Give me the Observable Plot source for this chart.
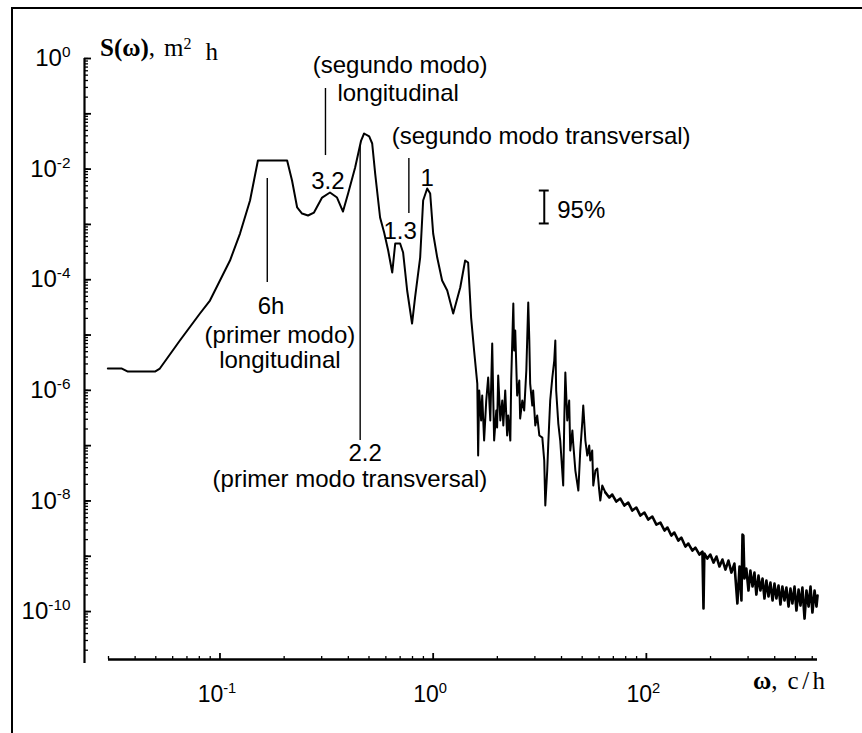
<!DOCTYPE html>
<html>
<head>
<meta charset="utf-8">
<script src="https://cdn.jsdelivr.net/npm/d3@7"></script>
<script src="https://cdn.jsdelivr.net/npm/@observablehq/plot@0.6"></script>
<style>
  html, body { margin: 0; padding: 0; background: #fff; }
  #page { position: relative; width: 862px; height: 733px; overflow: hidden; }
  #chart svg { display: block; }
  #frame {
    position: absolute; left: 11px; top: 7px; right: -10px; bottom: -10px;
    border-top: 2px solid #000; border-left: 2px solid #000; pointer-events: none;
  }
</style>
</head>
<body>
<div id="page"><div id="chart"></div><div id="frame"></div></div>
<script>
// Energy spectrum of sea level, S(ω) in m²·h against ω in cycles per hour.
// Each pair is [log10 ω, log10 S].
const lowFrequencyPart = [
  [-1.526, -5.606], [-1.460, -5.606], [-1.432, -5.660], [-1.305, -5.660], [-1.282, -5.606],
  [-1.188, -5.099], [-1.094, -4.611], [-1.047, -4.376], [-0.953, -3.653], [-0.906, -3.165],
  [-0.859, -2.568], [-0.822, -1.844], [-0.685, -1.844]
];
const seichePart = [
  [-0.662, -2.206], [-0.638, -2.694], [-0.615, -2.803], [-0.587, -2.839], [-0.559, -2.785],
  [-0.521, -2.514], [-0.484, -2.423], [-0.451, -2.514], [-0.423, -2.767], [-0.399, -2.441],
  [-0.366, -1.971], [-0.338, -1.483], [-0.324, -1.356], [-0.300, -1.410], [-0.286, -1.537],
  [-0.272, -2.080], [-0.249, -2.875], [-0.230, -3.146], [-0.211, -3.472], [-0.192, -3.870],
  [-0.178, -3.345], [-0.155, -3.345], [-0.141, -3.508], [-0.122, -4.195], [-0.099, -4.792],
  [-0.085, -4.322], [-0.061, -3.599], [-0.047, -2.568], [-0.028, -2.351], [-0.014, -2.441],
  [0.000, -3.165], [0.019, -3.599], [0.042, -4.014], [0.066, -4.195], [0.094, -4.611],
  [0.127, -4.141], [0.150, -3.653], [0.164, -3.689], [0.178, -4.684], [0.192, -5.280],
  [0.207, -5.877]
];
const highFrequencyPart = [
  [0.211, -7.179], [0.216, -6.004], [0.225, -6.546], [0.230, -6.094], [0.239, -6.908],
  [0.249, -6.184], [0.258, -5.768], [0.268, -6.546], [0.277, -5.154], [0.282, -6.184],
  [0.286, -6.908], [0.296, -6.365], [0.300, -6.673], [0.305, -5.732], [0.315, -6.546],
  [0.324, -6.184], [0.329, -6.637], [0.338, -6.004], [0.347, -6.817], [0.352, -6.456],
  [0.362, -6.908], [0.366, -5.823], [0.376, -4.430], [0.380, -5.280], [0.385, -4.919],
  [0.394, -6.094], [0.404, -5.823], [0.408, -6.510], [0.418, -6.184], [0.427, -6.365],
  [0.437, -5.642], [0.446, -4.412], [0.451, -5.099], [0.455, -5.877], [0.465, -6.275],
  [0.469, -6.004], [0.479, -6.637], [0.488, -6.456], [0.498, -6.817], [0.512, -6.854],
  [0.521, -7.269], [0.526, -8.083], [0.535, -7.450], [0.540, -6.962], [0.549, -6.184],
  [0.559, -5.768], [0.568, -5.461], [0.573, -5.099], [0.577, -6.004], [0.587, -6.600],
  [0.596, -6.908], [0.610, -7.721], [0.615, -6.546], [0.620, -5.678], [0.629, -6.546],
  [0.638, -6.184], [0.643, -7.089], [0.653, -6.727], [0.657, -6.962], [0.667, -7.450],
  [0.681, -7.812], [0.690, -7.089], [0.700, -6.546], [0.704, -6.275], [0.714, -6.908],
  [0.723, -7.179], [0.732, -6.998], [0.737, -7.269], [0.746, -7.089], [0.751, -7.721],
  [0.761, -7.450], [0.770, -7.414], [0.779, -7.812], [0.784, -7.993], [0.793, -7.721],
  [0.808, -7.848]
];
const tailPart = [
  [0.808, -7.848],
  [0.826, -7.939], [0.840, -7.884], [0.859, -8.011], [0.878, -7.957], [0.897, -8.083],
  [0.915, -8.029], [0.934, -8.174], [0.953, -8.119], [0.972, -8.264], [0.991, -8.210],
  [1.009, -8.336], [1.028, -8.282], [1.047, -8.427], [1.066, -8.391], [1.085, -8.535],
  [1.099, -8.481], [1.117, -8.626], [1.131, -8.571], [1.150, -8.716], [1.164, -8.662],
  [1.183, -8.825], [1.197, -8.770], [1.216, -8.897], [1.230, -8.843], [1.249, -8.969],
  [1.263, -8.915], [1.268, -9.946], [1.272, -8.951], [1.286, -9.042], [1.300, -8.969],
  [1.315, -9.114], [1.329, -9.005], [1.343, -9.186], [1.357, -9.060], [1.371, -9.241],
  [1.385, -9.078], [1.399, -9.295], [1.413, -9.132], [1.427, -9.855], [1.437, -9.186],
  [1.446, -9.801], [1.451, -8.608], [1.455, -8.626], [1.460, -9.403], [1.469, -9.222],
  [1.479, -9.620], [1.488, -9.259], [1.498, -9.548], [1.507, -9.295], [1.516, -9.693],
  [1.526, -9.349], [1.535, -9.620], [1.545, -9.403], [1.554, -9.765], [1.563, -9.439],
  [1.573, -9.729], [1.582, -9.476], [1.592, -9.801], [1.601, -9.494], [1.610, -9.765],
  [1.620, -9.530], [1.629, -9.873], [1.638, -9.548], [1.648, -9.801], [1.657, -9.566],
  [1.667, -9.910], [1.676, -9.584], [1.685, -9.855], [1.695, -9.548], [1.704, -9.982],
  [1.714, -9.602], [1.723, -9.892], [1.732, -9.566], [1.742, -10.127], [1.751, -9.620],
  [1.761, -9.910], [1.770, -9.548], [1.779, -10.018], [1.789, -9.620], [1.798, -9.910],
  [1.803, -9.711]
];

// Axis extents and ticks
const xDomain = [0.03, 63.5];
const yDomain = [1.15e-11, 1];
const xMajorTicks = [0.1, 1, 10];
const xTickLabels = ["10^-1", "10^0", "10^2"];
const xMinorTicks = [0.03, 0.04, 0.05, 0.06, 0.07, 0.08, 0.09,
  0.2, 0.3, 0.4, 0.5, 0.6, 0.7, 0.8, 0.9, 2, 3, 4, 5, 6, 7, 8, 9, 20, 30, 40, 50, 60];
const yMajorTicks = [1, 1e-1, 1e-2, 1e-3, 1e-4, 1e-5, 1e-6, 1e-7, 1e-8, 1e-9, 1e-10];
const yLabelTicks = [1, 1e-2, 1e-4, 1e-6, 1e-8, 1e-10];
const yTickLabels = ["10^0", "10^-2", "10^-4", "10^-6", "10^-8", "10^-10"];
const yMinorTicks = d3.scaleLog().domain(yDomain).ticks(30);

// Oscillation modes: period in hours and the extent of each leader line (S values)
const modePeriods = [6, 3.2, 2.2, 1.3];
const modeLineTop = [6.76e-3, 0.287, 0.0267, 0.01555];
const modeLineBottom = [8.9e-5, 0.0176, 1.24e-7, 1.57e-3];

// Annotation texts, placed at (ω, S) of their baseline centre
const noteText = ["(segundo modo)", "longitudinal", "3.2", "(segundo modo transversal)", "1.3", "1",
  "6h", "(primer modo)", "longitudinal", "2.2", "(primer modo transversal)"];
const noteOmega = [0.700, 0.685, 0.321, 3.21, 0.700, 0.937, 0.1735, 0.191, 0.191, 0.480, 0.407];
const noteS = [0.558, 0.174, 4.46e-3, 0.0279, 5.56e-4, 5.05e-3, 2.45e-5, 7.31e-6, 2.58e-6, 5.38e-8, 1.82e-8];

// 95% confidence interval bar
const ciOmega = 3.32, ciLow = 1.04e-3, ciHigh = 4.10e-3, ciLabel = "95%";

const toPoint = ([lw, ls]) => ({omega: 10 ** lw, S: 10 ** ls});
const spectrum = [...lowFrequencyPart, ...seichePart, ...highFrequencyPart].map(toPoint);
const tail = tailPart.map(toPoint);
const modes = modePeriods.map((T, i) => ({omega: 1 / T, top: modeLineTop[i], bottom: modeLineBottom[i]}));
const notes = noteText.map((t, i) => ({text: t, omega: noteOmega[i], S: noteS[i]}));
const ci = {omega: ciOmega, lo: ciLow, hi: ciHigh};

const yAxisGap = 24;   // y axis line sits left of the plotting frame
const xAxisGap = 4;    // x axis line sits just above the frame bottom
const capSpan = 1.055; // half width of the error-bar caps, as a ratio of ω

const chart = Plot.plot({
  width: 862, height: 733,
  marginLeft: 108, marginRight: 45, marginTop: 58, marginBottom: 70,
  style: {background: "transparent", fontFamily: "'Liberation Sans', Arial, sans-serif", overflow: "visible", color: "#000"},
  x: {type: "log", domain: xDomain, label: null},
  y: {type: "log", domain: yDomain, label: null},
  marks: [
    // y axis
    Plot.ruleX([xDomain[0]], {y1: yDomain[0], y2: yDomain[1], dx: -yAxisGap, strokeWidth: 2.2}),
    Plot.axisY(yMinorTicks, {anchor: "left", tickSize: 4, dx: -yAxisGap + 4, tickFormat: () => "", strokeWidth: 1.3}),
    Plot.axisY(yMajorTicks, {anchor: "left", tickSize: 7, dx: -yAxisGap + 7, tickFormat: () => "", strokeWidth: 1.8}),
    Plot.axisY(yLabelTicks, {anchor: "left", tickSize: 0, tickPadding: 0, dx: -38, fontSize: 24,
      tickFormat: d => yTickLabels[yLabelTicks.indexOf(d)]}),
    // x axis
    Plot.ruleY([yDomain[0]], {x1: xDomain[0], x2: xDomain[1], dy: -xAxisGap, strokeWidth: 2.4}),
    Plot.axisX(xMinorTicks, {anchor: "bottom", tickSize: 3, dy: -xAxisGap - 3, tickFormat: () => "", strokeWidth: 1.3}),
    Plot.axisX(xMajorTicks, {anchor: "bottom", tickSize: 6, dy: -xAxisGap - 6, tickFormat: () => "", strokeWidth: 1.8}),
    Plot.axisX(xMajorTicks, {anchor: "bottom", tickSize: 0, tickPadding: 0, dy: 22, dx: -3, fontSize: 23,
      tickFormat: d => xTickLabels[xMajorTicks.indexOf(d)]}),
    // spectrum: resonant band, then the dense high-frequency tail
    Plot.line(spectrum, {x: "omega", y: "S", stroke: "#000", strokeWidth: 2}),
    Plot.line(tail, {x: "omega", y: "S", stroke: "#000", strokeWidth: 2.6}),
    // mode leader lines and labels
    Plot.ruleX(modes, {x: "omega", y1: "top", y2: "bottom", stroke: "#000", strokeWidth: 1.4}),
    Plot.text(notes, {x: "omega", y: "S", text: "text", lineAnchor: "bottom", textAnchor: "middle", fontSize: 24, fill: "#000"}),
    // confidence interval
    Plot.ruleX([ci], {x: "omega", y1: "lo", y2: "hi", strokeWidth: 2}),
    Plot.ruleY([ci.lo, ci.hi], {y: d => d, x1: () => ci.omega / capSpan, x2: () => ci.omega * capSpan, strokeWidth: 2}),
    Plot.text([ci], {x: "omega", y: "lo", text: () => ciLabel, textAnchor: "start", lineAnchor: "bottom", dx: 13, dy: -5, fontSize: 24, fill: "#000"})
  ]
});

// Powers of ten: raise the exponent
d3.select(chart)
  .selectAll('g[aria-label="y-axis tick label"] text, g[aria-label="x-axis tick label"] text')
  .each(function () {
    const s = this.textContent;
    const k = s.indexOf("^");
    if (k < 0) return;
    this.textContent = "";
    d3.select(this).append("tspan").text(s.slice(0, k));
    d3.select(this).append("tspan").attr("dy", "-0.6em").attr("font-size", "0.64em").text(s.slice(k + 1));
  });

// Axis titles
const svg = d3.select(chart);
const serif = "'Liberation Serif', 'Times New Roman', serif";
const yTitle = svg.append("text")
  .attr("x", 100).attr("y", 56).attr("text-anchor", "start")
  .attr("font-family", serif).attr("font-size", 25).attr("fill", "#000");
yTitle.append("tspan").attr("font-weight", "bold").text("S(ω)");
yTitle.append("tspan").text(",");
yTitle.append("tspan").attr("dx", 9).text("m");
yTitle.append("tspan").attr("dy", "-0.45em").attr("font-size", 16).text("2");
yTitle.append("tspan").attr("dy", "0.45em").attr("dx", 14).text("h");

const xTitle = svg.append("text")
  .attr("x", 753).attr("y", 689).attr("text-anchor", "start")
  .attr("font-family", serif).attr("font-size", 25).attr("fill", "#000");
xTitle.append("tspan").attr("font-weight", "bold").text("ω");
xTitle.append("tspan").text(",");
xTitle.append("tspan").attr("dx", 10).attr("letter-spacing", 3.5).text("c/h");

document.getElementById("chart").append(chart);
</script>
</body>
</html>
